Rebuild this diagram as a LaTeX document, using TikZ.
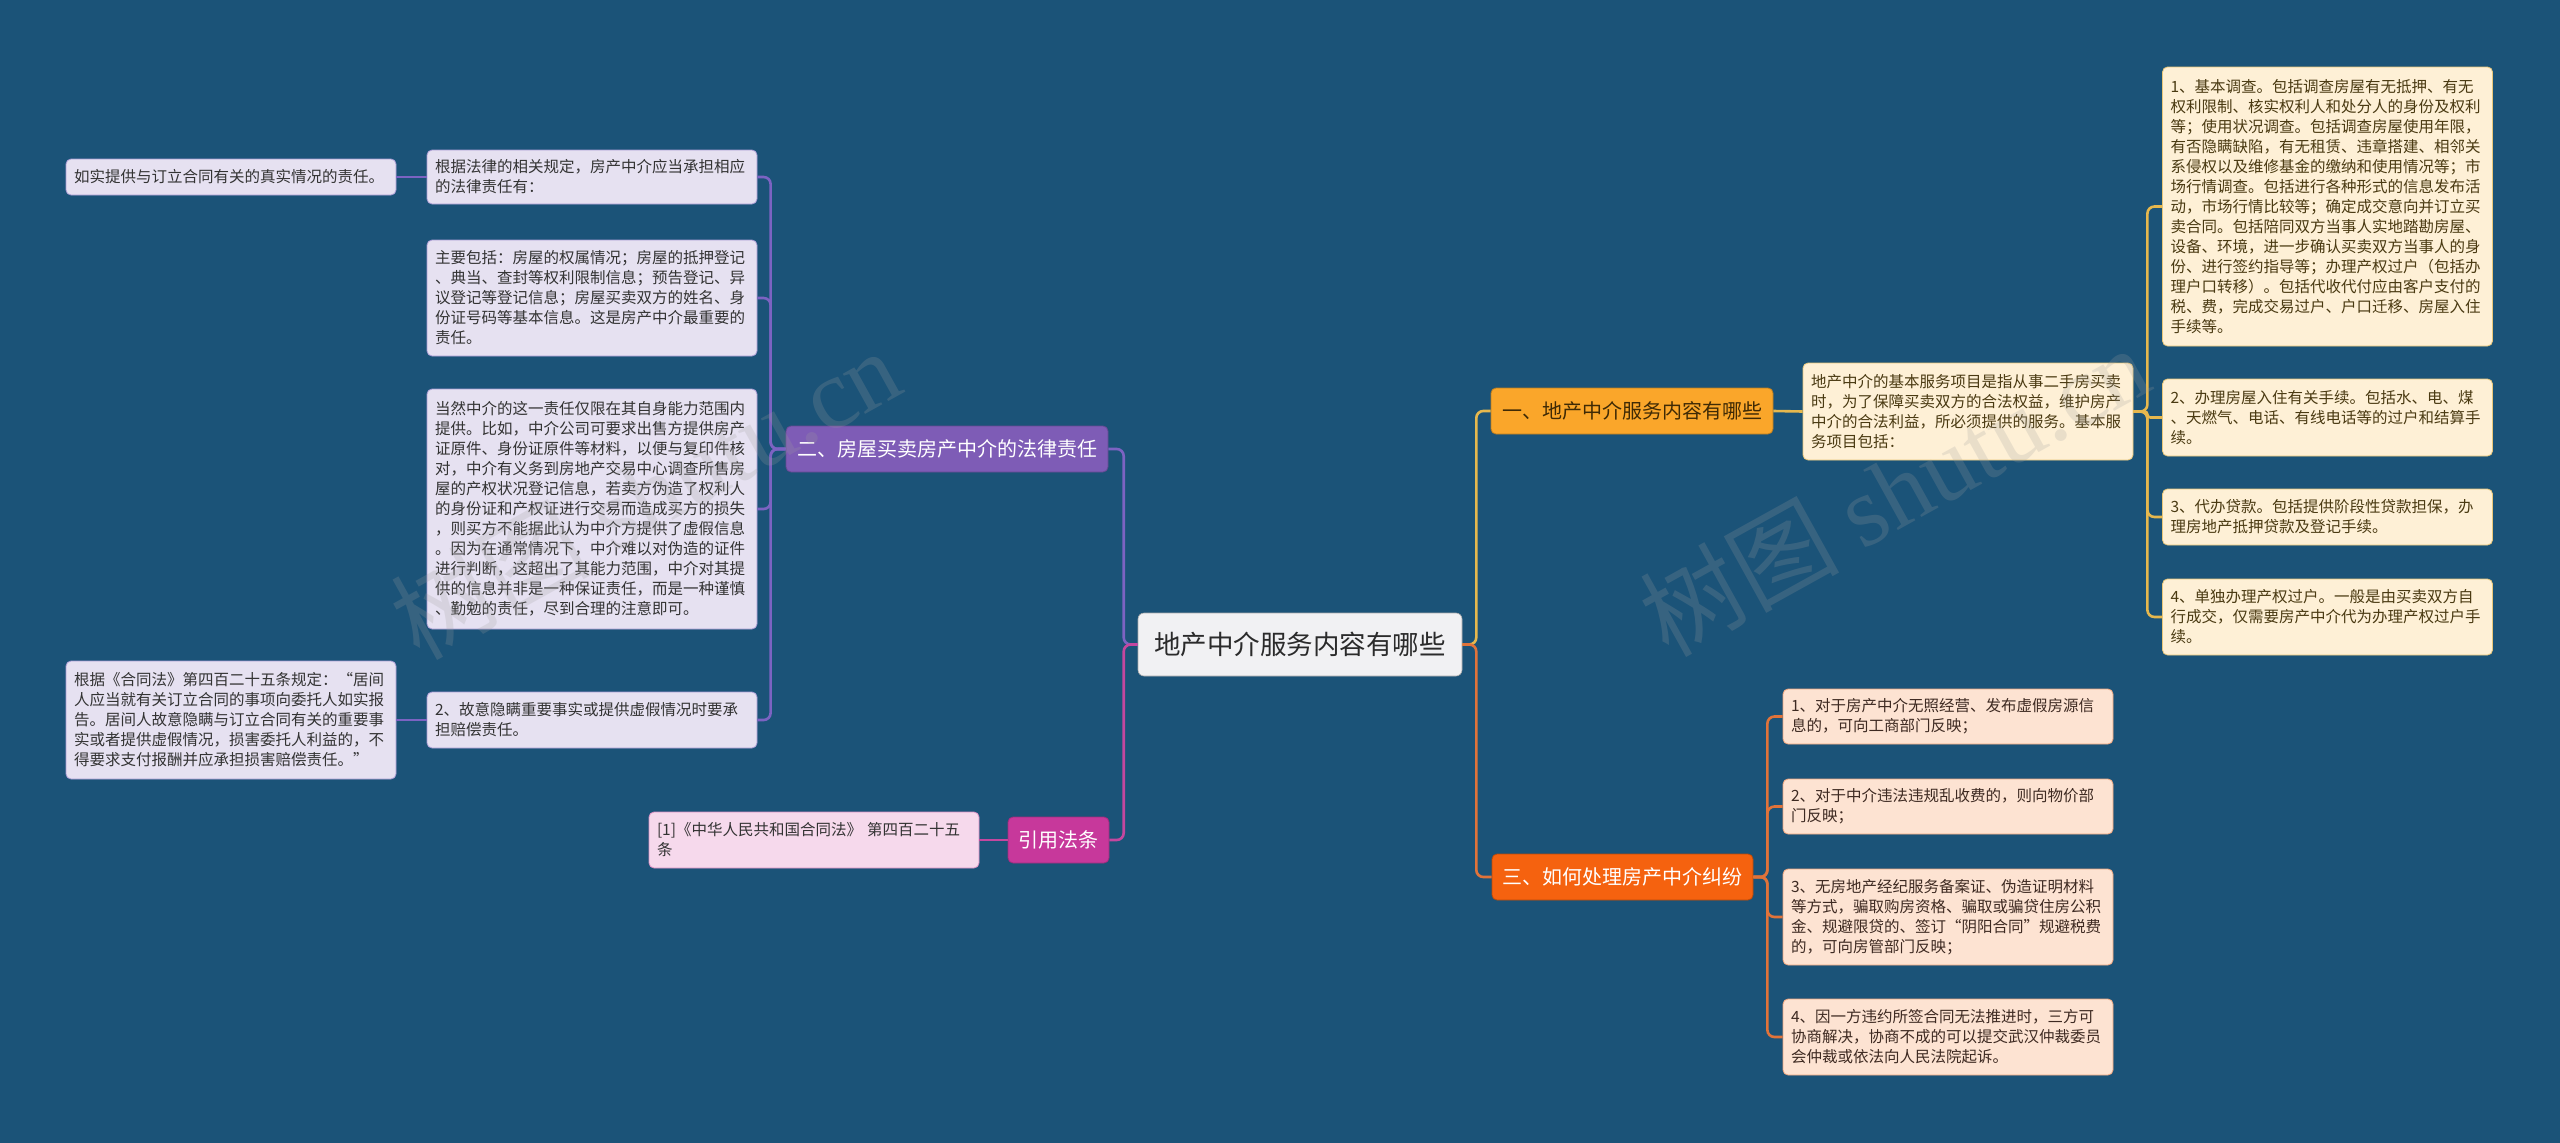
\documentclass[tikz,border=0pt]{standalone}
\usepackage{fontspec}
\setmainfont{Noto Sans CJK SC}
\newfontfamily\wmlatin{Liberation Serif}
\definecolor{bg}{HTML}{1B5378}
\definecolor{centerfill}{HTML}{F1F1F3}
\definecolor{centertext}{HTML}{2B2B2B}
\definecolor{onefill}{HTML}{FAA62A}
\definecolor{onetext}{HTML}{3F2A05}
\definecolor{onecon}{HTML}{E6B84E}
\definecolor{ritemfill}{HTML}{FEF0D6}
\definecolor{ritemdraw}{HTML}{E9C77A}
\definecolor{ritemtext}{HTML}{4A3A12}
\definecolor{threefill}{HTML}{F5620F}
\definecolor{threecon}{HTML}{E0733A}
\definecolor{titemfill}{HTML}{FDE3D2}
\definecolor{titemdraw}{HTML}{EDA57E}
\definecolor{titemtext}{HTML}{3E2A22}
\definecolor{twofill}{HTML}{7E5CB6}
\definecolor{twocon}{HTML}{7C63C2}
\definecolor{litemfill}{HTML}{E6E1F1}
\definecolor{litemdraw}{HTML}{A99BD3}
\definecolor{litemtext}{HTML}{333333}
\definecolor{citefill}{HTML}{C7389B}
\definecolor{citecon}{HTML}{C4479F}
\definecolor{citeitemfill}{HTML}{F6D9EC}
\definecolor{citeitemdraw}{HTML}{D98FC2}
\tikzset{
  itembox/.style={rounded corners=5pt, inner xsep=8pt, inner ysep=2pt, text width=314pt,
    align=left, font=\fontsize{15.5}{20}\selectfont, line width=0.8pt, anchor=center},
  ritem/.style={itembox, fill=ritemfill, draw=ritemdraw, text=ritemtext},
  titem/.style={itembox, fill=titemfill, draw=titemdraw, text=titemtext},
  litem/.style={itembox, fill=litemfill, draw=litemdraw, text=litemtext},
  citem/.style={itembox, fill=citeitemfill, draw=citeitemdraw, text=litemtext},
  topicbox/.style={rounded corners=5pt, inner xsep=0pt, inner ysep=0pt, align=center,
    font=\fontsize{20}{24}\selectfont, minimum height=46pt, line width=0.8pt, anchor=center},
  conn/.style={line width=2.6pt, rounded corners=7pt},
  wmark/.style={rotate=29, opacity=0.22, text=gray!75, font=\fontsize{100}{100}\selectfont}
}
\begin{document}
\begin{tikzpicture}[x=1pt,y=-1pt]
\fill[bg] (0,0) rectangle (2560,1143);
\useasboundingbox (0,0) rectangle (2560,1143);

% central
\node[rounded corners=6pt, fill=centerfill, draw=centerfill!70!black, line width=0.6pt,
  text=centertext, font=\fontsize{26.5}{30}\selectfont, minimum width=324pt, minimum height=63pt,
  inner sep=0pt] (center) at (1300,644.5) {地产中介服务内容有哪些};

% main topics
\node[topicbox, fill=onefill, draw=onefill!75!black, text=onetext, minimum width=282pt] (one) at (1632,411) {一、地产中介服务内容有哪些};
\node[topicbox, fill=threefill, draw=threefill!75!black, text=white, minimum width=261pt] (three) at (1622.5,877) {三、如何处理房产中介纠纷};
\node[topicbox, fill=twofill, draw=twofill!80!black, text=white, minimum width=322pt] (two) at (947,449) {二、房屋买卖房产中介的法律责任};
\node[topicbox, fill=citefill, draw=citefill!80!black, text=white, minimum width=101pt] (cite) at (1058.5,840) {引用法条};

% branch one
\node[ritem, minimum height=97pt] (desc) at (1968,411.5) {地产中介的基本服务项目是指从事二手房买卖\\时，为了保障买卖双方的合法权益，维护房产\\中介的合法利益，所必须提供的服务。基本服\\务项目包括：};
\node[ritem, minimum height=279pt] (r1) at (2327.5,206.5) {1、基本调查。包括调查房屋有无抵押、有无\\权利限制、核实权利人和处分人的身份及权利\\等；使用状况调查。包括调查房屋使用年限，\\有否隐瞒缺陷，有无租赁、违章搭建、相邻关\\系侵权以及维修基金的缴纳和使用情况等；市\\场行情调查。包括进行各种形式的信息发布活\\动，市场行情比较等；确定成交意向并订立买\\卖合同。包括陪同双方当事人实地踏勘房屋、\\设备、环境，进一步确认买卖双方当事人的身\\份、进行签约指导等；办理产权过户（包括办\\理户口转移）。包括代收代付应由客户支付的\\税、费，完成交易过户、户口迁移、房屋入住\\手续等。};
\node[ritem, minimum height=77pt] (r2) at (2327.5,417.5) {2、办理房屋入住有关手续。包括水、电、煤\\、天燃气、电话、有线电话等的过户和结算手\\续。};
\node[ritem, minimum height=56pt] (r3) at (2327.5,517) {3、代办贷款。包括提供阶段性贷款担保，办\\理房地产抵押贷款及登记手续。};
\node[ritem, minimum height=76pt] (r4) at (2327.5,617) {4、单独办理产权过户。一般是由买卖双方自\\行成交，仅需要房产中介代为办理产权过户手\\续。};

% branch three
\node[titem, minimum height=55pt] (t1) at (1948,716.5) {1、对于房产中介无照经营、发布虚假房源信\\息的，可向工商部门反映；};
\node[titem, minimum height=55pt] (t2) at (1948,806.5) {2、对于中介违法违规乱收费的，则向物价部\\门反映；};
\node[titem, minimum height=96pt] (t3) at (1948,917) {3、无房地产经纪服务备案证、伪造证明材料\\等方式，骗取购房资格、骗取或骗贷住房公积\\金、规避限贷的、签订“阴阳合同”规避税费\\的，可向房管部门反映；};
\node[titem, minimum height=76pt] (t4) at (1948,1037) {4、因一方违约所签合同无法推进时，三方可\\协商解决，协商不成的可以提交武汉仲裁委员\\会仲裁或依法向人民法院起诉。};

% branch two
\node[litem, minimum height=54pt] (la) at (592,177) {根据法律的相关规定，房产中介应当承担相应\\的法律责任有：};
\node[litem, minimum height=116pt] (lb) at (592,298) {主要包括：房屋的权属情况；房屋的抵押登记\\、典当、查封等权利限制信息；预告登记、异\\议登记等登记信息；房屋买卖双方的姓名、身\\份证号码等基本信息。这是房产中介最重要的\\责任。};
\node[litem, minimum height=240pt] (lc) at (592,509) {当然中介的这一责任仅限在其自身能力范围内\\提供。比如，中介公司可要求出售方提供房产\\证原件、身份证原件等材料，以便与复印件核\\对，中介有义务到房地产交易中心调查所售房\\屋的产权状况登记信息，若卖方伪造了权利人\\的身份证和产权证进行交易而造成买方的损失\\，则买方不能据此认为中介方提供了虚假信息\\。因为在通常情况下，中介难以对伪造的证件\\进行判断，这超出了其能力范围，中介对其提\\供的信息并非是一种保证责任，而是一种谨慎\\、勤勉的责任，尽到合理的注意即可。};
\node[litem, minimum height=56pt] (ld) at (592,720) {2、故意隐瞒重要事实或提供虚假情况时要承\\担赔偿责任。};
\node[litem, minimum height=36pt] (leafa) at (231,177) {如实提供与订立合同有关的真实情况的责任。};
\node[litem, minimum height=118pt] (leafd) at (231,720) {根据《合同法》第四百二十五条规定：“居间\\人应当就有关订立合同的事项向委托人如实报\\告。居间人故意隐瞒与订立合同有关的重要事\\实或者提供虚假情况，损害委托人利益的，不\\得要求支付报酬并应承担损害赔偿责任。”};

% citation
\node[citem, minimum height=56pt] (citation) at (814,840) {[1]《中华人民共和国合同法》 第四百二十五\\条};

% connectors
\draw[conn, onecon] (center.east) -- ++(14,0) |- (one.west);
\draw[conn, threecon] (center.east) -- ++(14,0) |- (three.west);
\draw[conn, twocon] (center.west) -- ++(-14,0) |- (two.east);
\draw[conn, citecon] (center.west) -- ++(-14,0) |- (cite.east);

\draw[conn, onecon] (one.east) -- (desc.west);
\draw[conn, onecon] (desc.east) -- ++(14,0) |- (r1.west);
\draw[conn, onecon, rounded corners=3pt] (desc.east) -- ++(14,0) |- (r2.west);
\draw[conn, onecon] (desc.east) -- ++(14,0) |- (r3.west);
\draw[conn, onecon] (desc.east) -- ++(14,0) |- (r4.west);

\draw[conn, threecon] (three.east) -- ++(14,0) |- (t1.west);
\draw[conn, threecon] (three.east) -- ++(14,0) |- (t2.west);
\draw[conn, threecon] (three.east) -- ++(14,0) |- (t3.west);
\draw[conn, threecon] (three.east) -- ++(14,0) |- (t4.west);

\draw[conn, twocon] (two.west) -- ++(-15,0) |- (la.east);
\draw[conn, twocon] (two.west) -- ++(-15,0) |- (lb.east);
\draw[conn, twocon] (two.west) -- ++(-15,0) |- (lc.east);
\draw[conn, twocon] (two.west) -- ++(-15,0) |- (ld.east);
\draw[conn, twocon] (la.west) -- (leafa.east);
\draw[conn, twocon] (ld.west) -- (leafd.east);

\draw[conn, citecon] (cite.west) -- (citation.east);

% watermarks
\node[wmark] (wm1) at (645,493) {树图 {\wmlatin shutu.cn}};
\node[wmark] (wm2) at (1894,490) {树图 {\wmlatin shutu.cn}};
\end{tikzpicture}
\end{document}
